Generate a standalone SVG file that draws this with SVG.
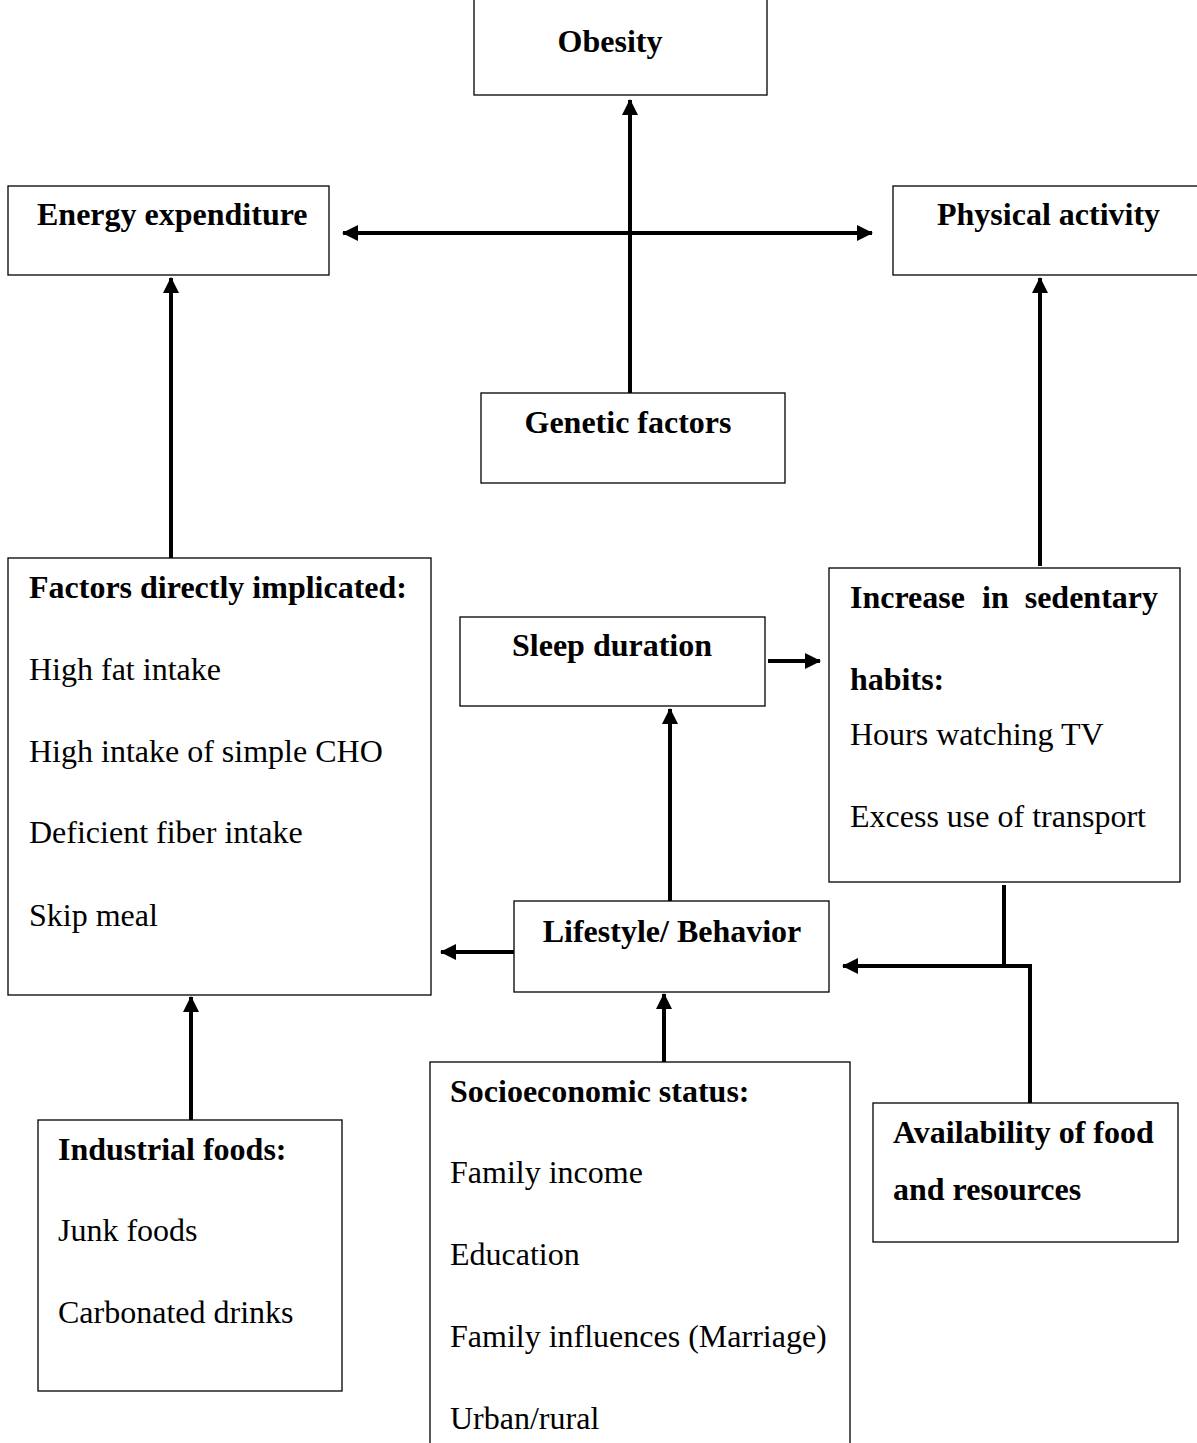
<svg xmlns="http://www.w3.org/2000/svg" width="1197" height="1443" viewBox="0 0 1197 1443">
<style>
.box{fill:#fff;stroke:#000;stroke-width:1.3}
text{font-family:"Liberation Serif","Times New Roman",serif;font-size:32px;fill:#000}
.b{font-weight:bold}
.c{text-anchor:middle}
.ln{stroke:#000;stroke-width:4;fill:none}
</style>
<defs>
<marker id="ah" markerUnits="userSpaceOnUse" markerWidth="16" markerHeight="16" viewBox="0 0 16 16" refX="15" refY="8" orient="auto-start-reverse">
<path d="M0,0 L16,8 L0,16 Z" fill="#000"/>
</marker>
</defs>
<g id="connectors">
<line class="ln" x1="630" y1="393" x2="630" y2="100" marker-end="url(#ah)"/>
<line class="ln" x1="343" y1="233" x2="872" y2="233" marker-start="url(#ah)" marker-end="url(#ah)"/>
<line class="ln" x1="171" y1="558" x2="171" y2="278" marker-end="url(#ah)"/>
<line class="ln" x1="1040" y1="566" x2="1040" y2="278" marker-end="url(#ah)"/>
<line class="ln" x1="768" y1="661" x2="820" y2="661" marker-end="url(#ah)"/>
<line class="ln" x1="670" y1="901" x2="670" y2="709" marker-end="url(#ah)"/>
<line class="ln" x1="514" y1="952" x2="441" y2="952" marker-end="url(#ah)"/>
<line class="ln" x1="191" y1="1120" x2="191" y2="997" marker-end="url(#ah)"/>
<line class="ln" x1="664" y1="1062" x2="664" y2="994" marker-end="url(#ah)"/>
<line class="ln" x1="1004" y1="885" x2="1004" y2="966"/>
<polyline class="ln" points="1030,1105 1030,966 843,966" marker-end="url(#ah)"/>
</g>
<g id="obesity"><rect class="box" x="474" y="-2" width="293" height="97"/><text class="b c" x="610" y="52">Obesity</text></g>
<g id="energy"><rect class="box" x="8" y="186" width="321" height="89"/><text class="b" x="37" y="225">Energy expenditure</text></g>
<g id="physical"><rect class="box" x="893" y="186" width="310" height="89"/><text class="b" x="937" y="225">Physical activity</text></g>
<g id="genetic"><rect class="box" x="481" y="393" width="304" height="90"/><text class="b c" x="628" y="433">Genetic factors</text></g>
<g id="factors"><rect class="box" x="8" y="558" width="423" height="437"/>
<text class="b" x="29" y="598">Factors directly implicated:</text>
<text x="29" y="680">High fat intake</text>
<text x="29" y="762">High intake of simple CHO</text>
<text x="29" y="843">Deficient fiber intake</text>
<text x="29" y="926">Skip meal</text></g>
<g id="sleep"><rect class="box" x="460" y="617" width="305" height="89"/><text class="b c" x="612" y="656">Sleep duration</text></g>
<g id="sedentary"><rect class="box" x="829" y="568" width="351" height="314"/>
<text class="b" x="850" y="608">Increase</text><text class="b" x="982" y="608">in</text><text class="b" x="1158" y="608" text-anchor="end">sedentary</text>
<text class="b" x="850" y="690">habits:</text>
<text x="850" y="745">Hours watching TV</text>
<text x="850" y="827">Excess use of transport</text></g>
<g id="lifestyle"><rect class="box" x="514" y="901" width="315" height="91"/><text class="b c" x="672" y="942">Lifestyle/ Behavior</text></g>
<g id="industrial"><rect class="box" x="38" y="1120" width="304" height="271"/>
<text class="b" x="58" y="1160">Industrial foods:</text>
<text x="58" y="1241">Junk foods</text>
<text x="58" y="1323">Carbonated drinks</text></g>
<g id="socioeconomic"><rect class="box" x="430" y="1062" width="420" height="400"/>
<text class="b" x="450" y="1102">Socioeconomic status:</text>
<text x="450" y="1183">Family income</text>
<text x="450" y="1265">Education</text>
<text x="450" y="1347">Family influences (Marriage)</text>
<text x="450" y="1429">Urban/rural</text></g>
<g id="availability"><rect class="box" x="873" y="1103" width="305" height="139"/>
<text class="b" x="893" y="1143">Availability of food</text>
<text class="b" x="893" y="1200">and resources</text></g>
</svg>
